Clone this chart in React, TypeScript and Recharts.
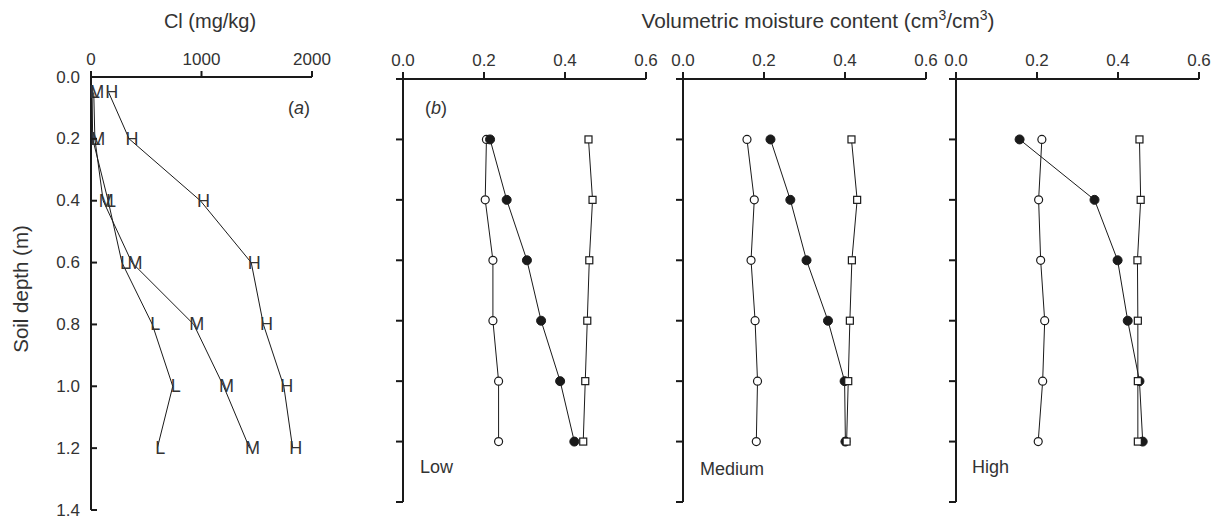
import React from "react";
import { ScatterChart, Scatter, XAxis, YAxis } from "recharts";

// panel (a): chloride profiles, letters L / M / H
const clDepths = [0.05, 0.2, 0.4, 0.6, 0.8, 1.0, 1.2];
const clLow = [10, 15, 155, 280, 555, 740, 600];
const clMedium = [25, 35, 110, 370, 930, 1200, 1435];
const clHigh = [160, 345, 990, 1450, 1560, 1745, 1825];

// panel (b): volumetric moisture, open circle / filled circle / square
const moistDepths = [0.2, 0.4, 0.6, 0.8, 1.0, 1.2];
const lowOpen = [0.206, 0.203, 0.222, 0.222, 0.236, 0.236];
const lowFilled = [0.215, 0.256, 0.306, 0.341, 0.388, 0.423];
const lowSquare = [0.458, 0.468, 0.46, 0.455, 0.45, 0.445];
const mediumOpen = [0.158, 0.176, 0.168, 0.178, 0.184, 0.181];
const mediumFilled = [0.216, 0.265, 0.305, 0.358, 0.399, 0.401];
const mediumSquare = [0.416, 0.43, 0.417, 0.412, 0.408, 0.404];
const highOpen = [0.212, 0.204, 0.209, 0.219, 0.214, 0.203];
const highFilled = [0.157, 0.342, 0.399, 0.424, 0.453, 0.461];
const highSquare = [0.453, 0.456, 0.448, 0.449, 0.449, 0.449];

const depthTicks = [0, 0.2, 0.4, 0.6, 0.8, 1.0, 1.2, 1.4];
const clTicks = [0, 1000, 2000];
const moistTicks = [0, 0.2, 0.4, 0.6];

const FONT = '"Liberation Sans", Arial, Helvetica, sans-serif';
const INK = "#1a1a1a";
const TEXT = "#333";

const zip = (xs: number[], ys: number[]) => xs.map((v, i) => ({ x: v, y: ys[i] }));

const letterShape = (letter: string) => (p: any) => (
  <text
    x={p.cx + 3}
    y={p.cy}
    textAnchor="middle"
    dominantBaseline="central"
    fontSize={18}
    fontFamily={FONT}
    fill={TEXT}
  >
    {letter}
  </text>
);

const openCircle = (p: any) => (
  <circle cx={p.cx} cy={p.cy} r={4} fill="#fff" stroke={INK} strokeWidth={1.2} />
);
const filledCircle = (p: any) => <circle cx={p.cx} cy={p.cy} r={4.5} fill={INK} stroke={INK} />;
const square = (p: any) => (
  <rect x={p.cx - 3.5} y={p.cy - 3.5} width={7} height={7} fill="#fff" stroke={INK} strokeWidth={1.2} />
);

// inward tick + label for the depth axis of panel (a)
const DepthTick = (props: any) => {
  const { x, y, payload } = props;
  return (
    <g>
      <line x1={x} x2={x + 6} y1={y} y2={y} stroke={INK} strokeWidth={2} />
      <text
        x={x - 11}
        y={y}
        textAnchor="end"
        dominantBaseline="central"
        fontSize={17}
        fontFamily={FONT}
        fill={TEXT}
      >
        {Number(payload.value).toFixed(1)}
      </text>
    </g>
  );
};

const lineStyle = { stroke: INK, strokeWidth: 1 };
const axisLine = { stroke: INK, strokeWidth: 2 };
const tickLine = { stroke: INK, strokeWidth: 2 };
const tickText = { fontSize: 17, fontFamily: FONT, fill: TEXT };

const ChloridePanel = () => (
  <ScatterChart width={360} height={519} margin={{ top: 47, right: 48, bottom: 9, left: 51 }}>
    <XAxis
      type="number"
      dataKey="x"
      orientation="top"
      domain={[0, 2000]}
      ticks={clTicks}
      height={30}
      axisLine={axisLine}
      tickLine={tickLine}
      tickSize={6}
      tickMargin={6}
      tick={tickText}
    />
    <YAxis
      type="number"
      dataKey="y"
      domain={[0, 1.4]}
      ticks={depthTicks}
      reversed
      width={40}
      axisLine={axisLine}
      tickLine={false}
      tickSize={0}
      tickMargin={0}
      tick={<DepthTick />}
    />
    <Scatter data={zip(clLow, clDepths)} line={lineStyle} shape={letterShape("L")} isAnimationActive={false} />
    <Scatter data={zip(clMedium, clDepths)} line={lineStyle} shape={letterShape("M")} isAnimationActive={false} />
    <Scatter data={zip(clHigh, clDepths)} line={lineStyle} shape={letterShape("H")} isAnimationActive={false} />
  </ScatterChart>
);

const MoisturePanel = ({ open, filled, sq }: { open: number[]; filled: number[]; sq: number[] }) => (
  <ScatterChart width={293} height={519} margin={{ top: 49, right: 20, bottom: 17, left: 20 }}>
    <XAxis
      type="number"
      dataKey="x"
      orientation="top"
      domain={[0, 0.6]}
      ticks={moistTicks}
      height={30}
      axisLine={axisLine}
      tickLine={tickLine}
      tickSize={7}
      tickMargin={6}
      tick={tickText}
      tickFormatter={(v: number) => v.toFixed(1)}
    />
    <YAxis
      type="number"
      dataKey="y"
      domain={[0, 1.4]}
      ticks={depthTicks}
      reversed
      width={10}
      axisLine={axisLine}
      tickLine={tickLine}
      tickSize={7}
      tickFormatter={() => ""}
    />
    <Scatter data={zip(open, moistDepths)} line={lineStyle} shape={openCircle} isAnimationActive={false} />
    <Scatter data={zip(filled, moistDepths)} line={lineStyle} shape={filledCircle} isAnimationActive={false} />
    <Scatter data={zip(sq, moistDepths)} line={lineStyle} shape={square} isAnimationActive={false} />
  </ScatterChart>
);

const txt = { fontFamily: FONT, fill: TEXT };

export default function App() {
  return (
    <div style={{ position: "absolute", left: 0, top: 0, width: 1222, height: 519, background: "#fff" }}>
      <div style={{ position: "absolute", left: 0, top: 0 }}>
        <ChloridePanel />
      </div>
      <div style={{ position: "absolute", left: 372.7, top: 0 }}>
        <MoisturePanel open={lowOpen} filled={lowFilled} sq={lowSquare} />
      </div>
      <div style={{ position: "absolute", left: 652.7, top: 0 }}>
        <MoisturePanel open={mediumOpen} filled={mediumFilled} sq={mediumSquare} />
      </div>
      <div style={{ position: "absolute", left: 926, top: 0 }}>
        <MoisturePanel open={highOpen} filled={highFilled} sq={highSquare} />
      </div>
      <svg
        width={1222}
        height={519}
        style={{ position: "absolute", left: 0, top: 0, pointerEvents: "none" }}
      >
        <text x={210} y={28} textAnchor="middle" fontSize={20} {...txt}>
          Cl (mg/kg)
        </text>
        <text x={818} y={28} textAnchor="middle" fontSize={20.8} {...txt}>
          Volumetric moisture content (cm
          <tspan fontSize={14} dy={-8}>3</tspan>
          <tspan dy={8}>/cm</tspan>
          <tspan fontSize={14} dy={-8}>3</tspan>
          <tspan dy={8}>)</tspan>
        </text>
        <text x={28} y={289} textAnchor="middle" fontSize={20.5} transform="rotate(-90 28 289)" {...txt}>
          Soil depth (m)
        </text>
        <text x={288} y={114} fontSize={18} {...txt}>
          (<tspan fontStyle="italic">a</tspan>)
        </text>
        <text x={425} y={114} fontSize={18} {...txt}>
          (<tspan fontStyle="italic">b</tspan>)
        </text>
        <text x={420} y={473} fontSize={18} {...txt}>
          Low
        </text>
        <text x={700} y={475} fontSize={18} {...txt}>
          Medium
        </text>
        <text x={972} y={473} fontSize={18} {...txt}>
          High
        </text>
      </svg>
    </div>
  );
}
